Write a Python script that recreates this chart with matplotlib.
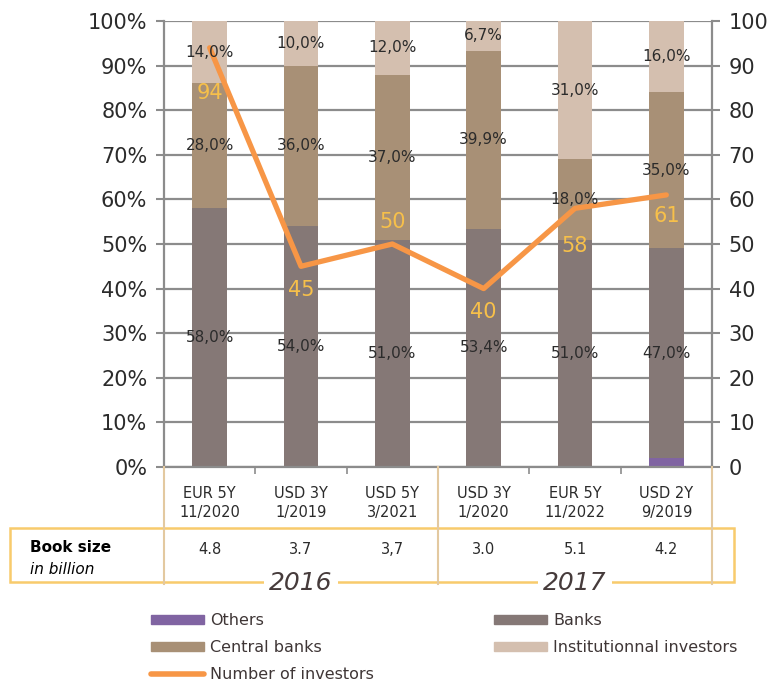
import numpy as np
import matplotlib
matplotlib.use("Agg")
import matplotlib.pyplot as plt
from matplotlib.lines import Line2D
from matplotlib.patches import Patch, Rectangle
from matplotlib.transforms import blended_transform_factory

# data
deals = ["EUR 5Y\n11/2020", "USD 3Y\n1/2019", "USD 5Y\n3/2021",
         "USD 3Y\n1/2020", "EUR 5Y\n11/2022", "USD 2Y\n9/2019"]
book_size = ["4.8", "3.7", "3,7", "3.0", "5.1", "4.2"]
years = ["2016", "2017"]
others = [0, 0, 0, 0, 0, 2.0]
banks = [58.0, 54.0, 51.0, 53.4, 51.0, 47.0]
central_banks = [28.0, 36.0, 37.0, 39.9, 18.0, 35.0]
institutional = [14.0, 10.0, 12.0, 6.7, 31.0, 16.0]
n_investors = [94, 45, 50, 40, 58, 61]

c_others = "#8064A2"
c_banks = "#857876"
c_central = "#A89076"
c_inst = "#D4BFAF"
c_line = "#F79646"
c_lab = "#F7C04A"
c_grid = "#8C8C8C"
c_box = "#F8CB6C"
c_sep = "#E3C9A0"
txt = "#2B2B2B"

W, H = 774, 687
fig = plt.figure(figsize=(W / 100, H / 100), dpi=100)
ax = fig.add_axes([164 / W, 1 - 467 / H, 548 / W, 446 / H])

x = np.arange(len(deals))
bw = 0.38
bottom = np.zeros(len(deals))
for vals, col in [(others, c_others), (banks, c_banks),
                  (central_banks, c_central), (institutional, c_inst)]:
    ax.bar(x, vals, bw, bottom=bottom, color=col, zorder=2)
    bottom += np.array(vals)

ax.set_xlim(-0.5, len(deals) - 0.5)
ax.set_ylim(0, 100)
ax.set_yticks(np.arange(0, 101, 10))
ax.set_yticklabels([f"{v}%" for v in range(0, 101, 10)])
ax.yaxis.grid(True, color=c_grid, lw=1.6, zorder=0)
ax.set_axisbelow(True)
ax.set_xticks([0.5, 1.5, 3.5, 4.5])
ax.set_xticklabels([])
ax.tick_params(axis="x", length=5, color=c_grid, width=1.2)
ax.tick_params(axis="y", length=6, color=c_grid, width=1.5, labelsize=15,
               labelcolor=txt, pad=6)
for s in ["left", "right", "bottom", "top"]:
    ax.spines[s].set_color(c_grid)
    ax.spines[s].set_linewidth(1.6)
ax.spines["top"].set_visible(False)

# number of investors on right axis
ax2 = ax.twinx()
ax2.plot(x, n_investors, color=c_line, lw=3.8, solid_capstyle="round", zorder=4)
ax2.set_ylim(0, 100)
ax2.set_yticks(np.arange(0, 101, 10))
ax2.tick_params(axis="y", length=6, color=c_grid, width=1.5, labelsize=15,
                labelcolor=txt, pad=6)
for s in ax2.spines.values():
    s.set_visible(False)
lab_off = [-45, -24, 22, -23, -38, -21]
for i, v in enumerate(n_investors):
    ax2.annotate(str(v), (x[i], v), xytext=(0, lab_off[i]),
                 textcoords="offset pixels", ha="center", va="center",
                 fontsize=15, color=c_lab, zorder=6)

# segment labels (same 0-100 scale, drawn over the line)
bottom = np.array(others, dtype=float)
for vals in [banks, central_banks, institutional]:
    for i, v in enumerate(vals):
        ax2.text(x[i], bottom[i] + v / 2, f"{v:.1f}%".replace(".", ","),
                 ha="center", va="center", fontsize=11, color=txt, zorder=5)
    bottom += np.array(vals)

# table below the chart
tr = blended_transform_factory(ax.transData, fig.transFigure)
fy = lambda y: 1 - y / H
for i, lab in enumerate(deals):
    fig.text(x[i], fy(503), lab, transform=tr, ha="center", va="center",
             fontsize=10.5, color=txt, linespacing=1.35)
    fig.text(x[i], fy(549), book_size[i], transform=tr, ha="center",
             va="center", fontsize=10.5, color=txt)

fig.patches.append(Rectangle((10 / W, fy(582)), 724 / W, (582 - 528) / H,
                             transform=fig.transFigure, fill=False,
                             ec=c_box, lw=1.8))
for xs in [-0.5, 2.5, 5.5]:
    fig.add_artist(Line2D([xs, xs], [fy(467), fy(584)], transform=tr,
                          color=c_sep, lw=1.5))
fig.text(30 / W, fy(548), "Book size", fontsize=11, fontweight="bold",
         color="black", va="center")
fig.text(30 / W, fy(570), "in billion", fontsize=11, style="italic",
         color="black", va="center")
for xc, yr in zip([1.0, 4.0], years):
    fig.text(xc, fy(583), yr, transform=tr, ha="center", va="center",
             fontsize=18, style="italic", color="#463B3B",
             bbox=dict(facecolor="white", edgecolor="none", pad=4))

# legend
col1 = [Patch(color=c_others, label="Others"),
        Patch(color=c_central, label="Central banks"),
        Line2D([], [], color=c_line, lw=4, solid_capstyle="round",
               label="Number of investors")]
col2 = [Patch(color=c_banks, label="Banks"),
        Patch(color=c_inst, label="Institutionnal investors")]
for handles, xl in [(col1, 143), (col2, 486)]:
    fig.legend(handles=handles, loc="upper left",
               bbox_to_anchor=(xl / W, fy(605)), frameon=False,
               fontsize=11.5, handlelength=3.3, handleheight=0.5,
               handletextpad=0.4, labelspacing=0.75, borderpad=0,
               labelcolor="#3F3636")

fig.savefig("out.png", dpi=100)
